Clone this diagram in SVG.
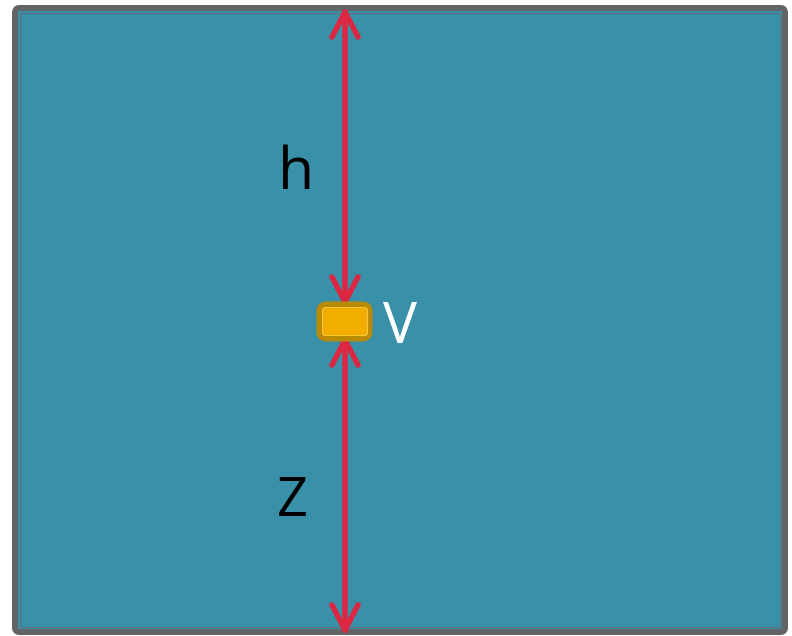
<svg xmlns="http://www.w3.org/2000/svg" width="792" height="636" viewBox="0 0 792 636">
  <style>
    .lbl { font-family: "Open Sans", "Noto Sans", "DejaVu Sans", sans-serif; }
    .dim { stroke: #dc2743; stroke-width: 5.5; fill: none; stroke-linecap: round; }
  </style>
  <defs>
    <marker id="chev" markerUnits="userSpaceOnUse" orient="auto-start-reverse" refX="0" refY="0" markerWidth="60" markerHeight="60" viewBox="-40 -30 60 60" overflow="visible">
      <path d="M-25,-13 L0,0 L-25,13" fill="none" stroke="#dc2743" stroke-width="5.5" stroke-linecap="round" stroke-linejoin="round"/>
    </marker>
  </defs>
  <g id="frame">
    <rect x="15" y="8" width="770" height="624" rx="4" fill="#3891a8" stroke="#636468" stroke-width="6"/>
    <rect x="20.5" y="13.5" width="760" height="614" fill="none" stroke="#5f7180" stroke-width="1.2"/>
  </g>
  <g id="connectors">
    <line class="dim" x1="345" y1="12" x2="345" y2="302" marker-start="url(#chev)" marker-end="url(#chev)"/>
    <line class="dim" x1="345" y1="340" x2="345" y2="630" marker-start="url(#chev)" marker-end="url(#chev)"/>
  </g>
  <g id="node-V">
    <rect x="316.5" y="301.5" width="56" height="40" rx="9" fill="#b98a05"/>
    <rect x="322.5" y="307.5" width="45" height="28" rx="3" fill="#f2ae00" stroke="#f8c43a" stroke-width="1.2"/>
  </g>
  <g id="labels">
    <text class="lbl" x="278" y="189" font-size="59" fill="#000000">h</text>
    <text class="lbl" x="277" y="516" font-size="54" fill="#000000">Z</text>
    <text class="lbl" x="383" y="343" font-size="57" fill="#ffffff">V</text>
  </g>
</svg>
